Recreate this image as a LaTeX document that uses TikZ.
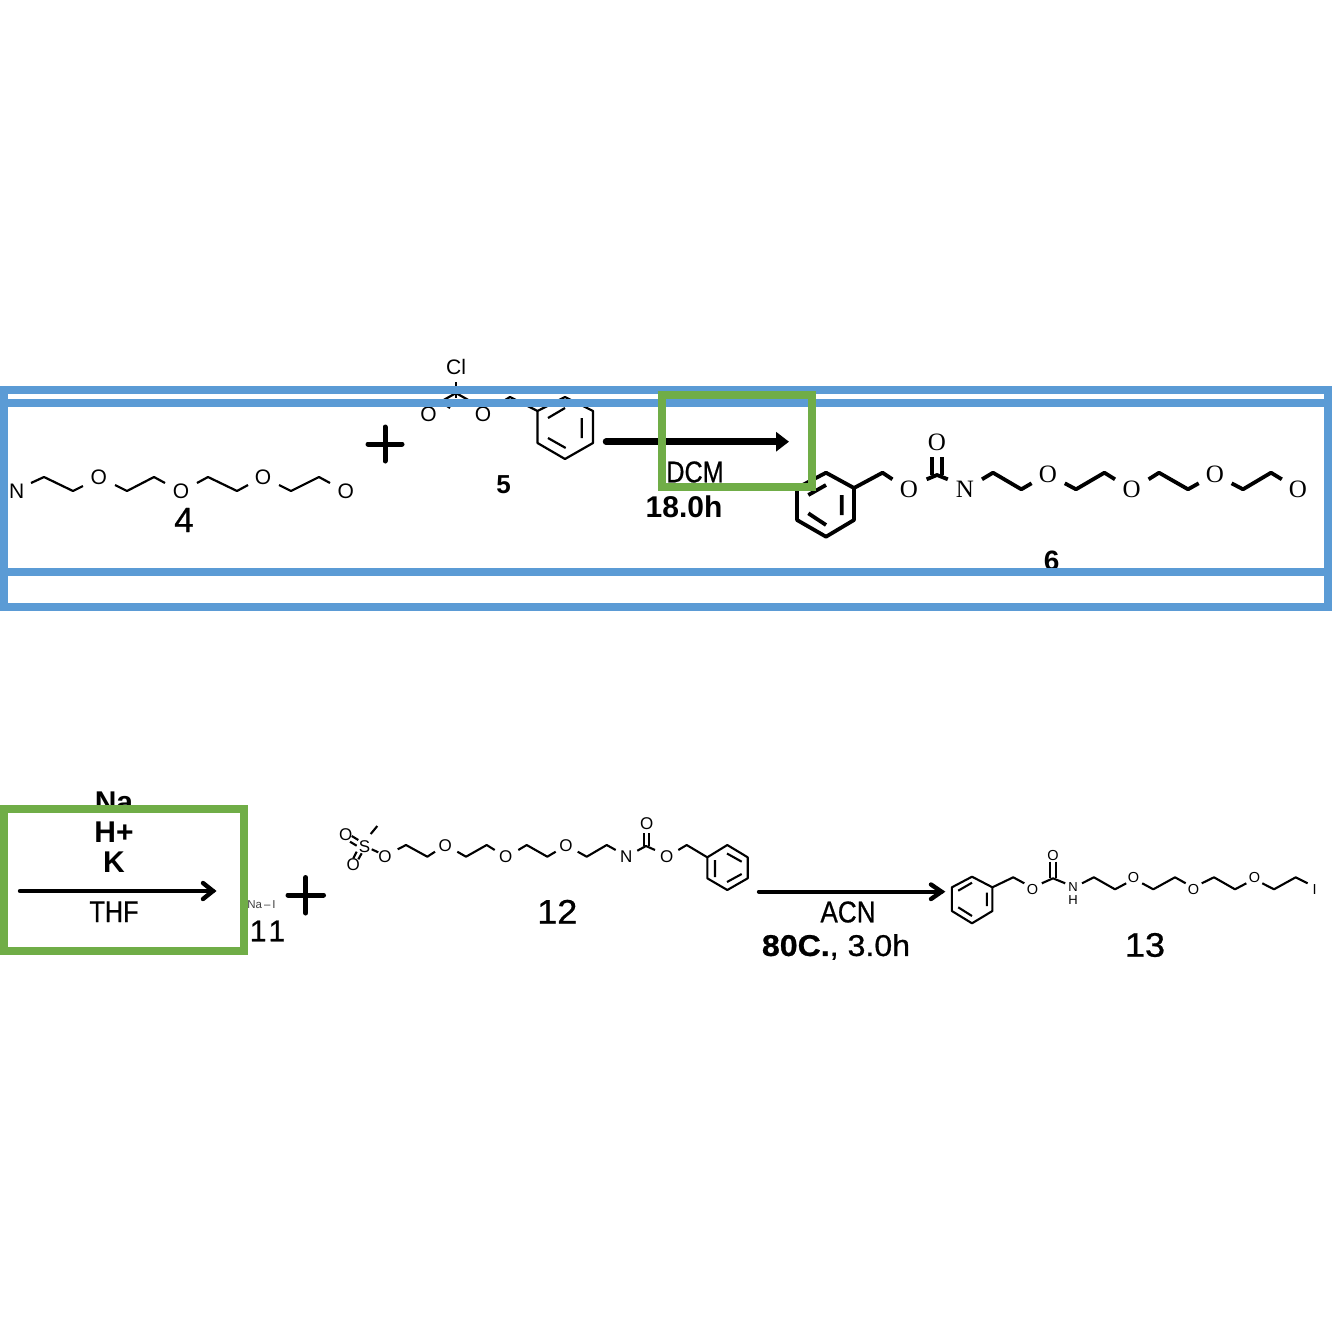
\documentclass[tikz,border=0pt]{standalone}
\usepackage{fontspec}
\setmainfont{Liberation Sans}
\newfontfamily\serifchem{Liberation Serif}
\newfontfamily\medfont[FakeBold=0.7]{Liberation Sans}
\usetikzlibrary{arrows.meta}
\definecolor{bluebox}{HTML}{5B9BD5}
\definecolor{greenbox}{HTML}{70AD47}
\newcommand{\fs}[1]{\fontsize{#1}{#1}\selectfont}
\newcommand{\wide}[2]{\scalebox{#1}[1]{#2}}
\tikzset{
  x=1pt,y=-1pt,
  atom/.style={inner sep=0pt,text=black,anchor=center},
  atomA/.style={atom,font=\fs{21}},
  atomB/.style={atom,font=\fs{17}},
  atomC/.style={atom,font=\fs{25}\serifchem},
  atomD/.style={atom,font=\fs{14.5}},
  atomE/.style={atom,font=\fs{13}},
  cond/.style={inner sep=0pt,anchor=center,font=\fs{30}\medfont},
  condb/.style={inner sep=0pt,anchor=center,font=\fs{30}\bfseries},
  bondA/.style={line width=2.2pt,line join=round},
  bondB/.style={line width=2.1pt,line join=round},
  bondC/.style={line width=3.8pt,line join=round},
  plusmark/.style={line width=5pt,line cap=round},
  rxn/.style={line width=4.4pt,line cap=round},
  blueframe/.style={draw=bluebox,line width=8pt},
  greenframe/.style={draw=greenbox,line width=8pt},
}
\begin{document}
\begin{tikzpicture}
\useasboundingbox (0,0) rectangle (1333,1333);
\fill[white] (0,0) rectangle (1333,1333);
% Compound 4
\node[atomA] (n4) at (16.7,491.7) {N};
\node[atomA] (o4a) at (98.7,477.7) {O};
\node[atomA] (o4b) at (181,491.7) {O};
\node[atomA] (o4c) at (263,477.7) {O};
\node[atomA] (o4d) at (345.7,491.7) {O};
\draw[bondA] (31,483)--(44,477)--(73,491)--(83,486);
\draw[bondA] (115,485)--(127,491)--(154,477)--(165,483);
\draw[bondA] (197,483)--(208,477)--(237,491)--(248,485);
\draw[bondA] (279,485)--(291,491)--(319,477)--(330,483);
\node[inner sep=0pt,font=\fs{35}\medfont] (l4) at (184,520) {4};
% plus
\draw[plusmark] (368,444)--(402,444) (385,427)--(385,461);
% Compound 5
\node[atomA] (cl5) at (456,366.7) {Cl};
\node[atomA] (o5a) at (428.5,414) {O};
\node[atomA] (o5b) at (483,414) {O};
\draw[bondA] (456,382)--(456,398);
\draw[bondA] (442,401)--(456,393)--(470,401);
\draw[bondA] (447,406)--(450,408);
\draw[bondA] (497,405)--(510,397)--(537.5,411);
\draw[bondA] (565,397)--(593,411)--(593,443)--(565,459)--(537.5,443)--(537.5,411)--cycle;
\draw[bondA] (581.7,418)--(581.7,438) (548,418)--(565,408) (548,438)--(565.7,448);
\node[inner sep=0pt,font=\fs{26}\bfseries] (l5) at (503.7,485) {5};
% arrow 1
\coordinate (a1s) at (606,441.7);
\coordinate (a1e) at (789,441.7);
\draw[line width=6.5pt,line cap=round,-{Triangle[length=13pt,width=19pt]}] (a1s)--(a1e);
% Compound 6
\draw[bondC] (826,472.7)--(854,488)--(854,520)--(826,536.7)--(797,520)--(797,488)--cycle;
\draw[bondC] (841.8,495)--(841.8,515) (808.3,495)--(826,485) (808.3,513.3)--(826,525);
\draw[bondC] (854,488)--(882.5,472.7)--(892.4,479.3);
\node[atomC] (o6a) at (909,489.3) {O};
\draw[bondC] (926.6,479.3)--(937,475)--(947.8,479.3);
\draw[bondC] (932,457.3)--(932,475) (942,457.3)--(942,475);
\node[atomC] (o6b) at (937,442.3) {O};
\node[atomC] (n6) at (965,489.3) {N};
\draw[bondC] (982,479.3)--(993,472.7)--(1021.3,489.3)--(1031.6,483.3);
\node[atomC] (o6c) at (1047.8,474) {O};
\draw[bondC] (1064.8,483.3)--(1076,489.3)--(1104.4,472.7)--(1115,479.3);
\node[atomC] (o6d) at (1131.6,489.3) {O};
\draw[bondC] (1148.6,479.3)--(1159,472.7)--(1188,489.3)--(1198.7,483.3);
\node[atomC] (o6e) at (1215,474) {O};
\draw[bondC] (1231.6,483.3)--(1243,489.3)--(1271,472.7)--(1281.8,479.3);
\node[atomC] (o6f) at (1298,489.3) {O};
\node[inner sep=0pt,font=\fs{28}\bfseries] (l6) at (1051.7,561) {6};
% Arrow 2 and conditions
\node[condb] (na) at (114,802) {Na};
\node[condb] (hp) at (114,832) {H+};
\node[condb] (k) at (114,862) {K};
\coordinate (a2s) at (20,891);
\coordinate (a2e) at (213,891);
\draw[rxn] (a2s)--(a2e);
\draw[rxn,line join=miter] (203,883)--(a2e)--(203,899);
\node[cond] (thf) at (114,911.7) {\wide{0.84}{THF}};
\node[inner sep=0pt,font=\fs{11.5},text=black!75] (nai) at (261.5,905) {Na\,--\,I};
\node[cond] (l11) at (267.5,931) {1\kern2pt 1};
\draw[plusmark] (288,895)--(323.5,895) (305.7,877.5)--(305.7,913);
% Compound 12
\node[atomB] (o12a) at (345.7,835) {O};
\node[atomB] (o12b) at (353.3,864.5) {O};
\node[atomB] (s12) at (364.5,846.7) {S};
\node[atomB] (o12c) at (385,856.7) {O};
\draw[bondB] (370.7,834)--(377.3,826);
\draw[bondB] (351.7,836)--(358.3,840) (350,841.7)--(356.7,845.7);
\draw[bondB] (353.3,858.3)--(356.7,851.7) (358.3,859.3)--(361.7,853.3);
\draw[bondB] (371.7,849.3)--(378.3,852.3);
\draw[bondB] (397.7,849.3)--(406,845)--(427.3,856.7)--(435,851.7);
\node[atomB] (o12d) at (445.3,846) {O};
\draw[bondB] (457.3,851.7)--(466,856.7)--(486.7,845)--(494.7,850);
\node[atomB] (o12e) at (505.7,856.7) {O};
\draw[bondB] (518.3,850)--(526.7,845)--(547.3,856.7)--(555.7,851.7);
\node[atomB] (o12f) at (566,846) {O};
\draw[bondB] (577.7,851.7)--(586.7,856.7)--(606.7,845)--(615.7,850);
\node[atomB] (n12) at (626.3,856.7) {N};
\draw[bondB] (637.3,850.7)--(646,846)--(655,850);
\draw[bondB] (643.8,833)--(643.8,846) (648.8,833)--(648.8,846);
\node[atomB] (o12g) at (646.7,823.3) {O};
\node[atomB] (o12h) at (666.7,856.7) {O};
\draw[bondB] (678.3,850)--(686.7,845)--(707.3,857.3);
\draw[bondB] (727.3,845)--(747.7,857.3)--(747.7,878.3)--(727.3,890)--(707.3,878.3)--(707.3,857.3)--cycle;
\draw[bondB] (715,860)--(715,877) (727,853.5)--(741.7,861.7) (727,882)--(741.7,874);
\node[inner sep=0pt,font=\fs{34}\medfont] (l12) at (557.3,911.7) {\wide{1.06}{12}};
% Arrow 3
\coordinate (a3s) at (759,891.7);
\coordinate (a3e) at (941.5,891.7);
\draw[rxn] (a3s)--(a3e);
\draw[rxn,line join=miter] (931,884.5)--(a3e)--(931,899);
\node[cond] (acn) at (848,912) {\wide{0.87}{ACN}};
\node[inner sep=0pt,font=\fs{30}\medfont] (t3) at (836,947) {\wide{1.07}{\textbf{80C.}, 3.0h}};
% Compound 13
\draw[bondB] (972,876.7)--(992.4,887.3)--(992.4,911)--(972,923.3)--(951.9,911)--(951.9,887.3)--cycle;
\draw[bondB] (986.8,892.7)--(986.8,906) (958.2,890.7)--(972,882.7) (958.2,907.3)--(972,916);
\draw[bondB] (992.4,887.3)--(1013.2,877.3)--(1024.3,883.3);
\node[atomD] (o13a) at (1032.5,889.3) {O};
\draw[bondB] (1041.8,883.3)--(1053,878.3)--(1065.2,883.3);
\draw[bondB] (1050.4,861.7)--(1050.4,878.3) (1055.6,861.7)--(1055.6,878.3);
\node[atomD] (o13b) at (1053,855) {O};
\node[atomE] (n13) at (1073,887.5) {N};
\node[atomE] (h13) at (1073,900.5) {H};
\draw[bondB] (1082,883.3)--(1093.9,877.3)--(1115,889.3)--(1126.2,883.3);
\node[atomD] (o13c) at (1133.6,877.7) {O};
\draw[bondB] (1142.2,883.3)--(1153.3,889.3)--(1175,877.3)--(1185.7,883.3);
\node[atomD] (o13d) at (1193.5,889.3) {O};
\draw[bondB] (1201.7,883.3)--(1214,877.3)--(1235,889.3)--(1246.3,883.3);
\node[atomD] (o13e) at (1254.5,877.7) {O};
\draw[bondB] (1262.3,883.3)--(1274,889.3)--(1295.7,877.3)--(1307.6,883.3);
\node[atomD] (i13) at (1314.7,889.3) {I};
\node[inner sep=0pt,font=\fs{34}\medfont] (l13) at (1145,945) {\wide{1.06}{13}};
% Frames
\draw[blueframe] (4,390) rectangle (1328,607);
\draw[blueframe] (4,403) rectangle (1328,572);
\draw[greenframe] (662,395) rectangle (812,487);
\draw[greenframe] (4,809) rectangle (244,951);
\node[cond] (dcm) at (695,472) {\wide{0.84}{DCM}};
\node[condb] (t1) at (684,507) {18.0h};
\end{tikzpicture}
\end{document}
